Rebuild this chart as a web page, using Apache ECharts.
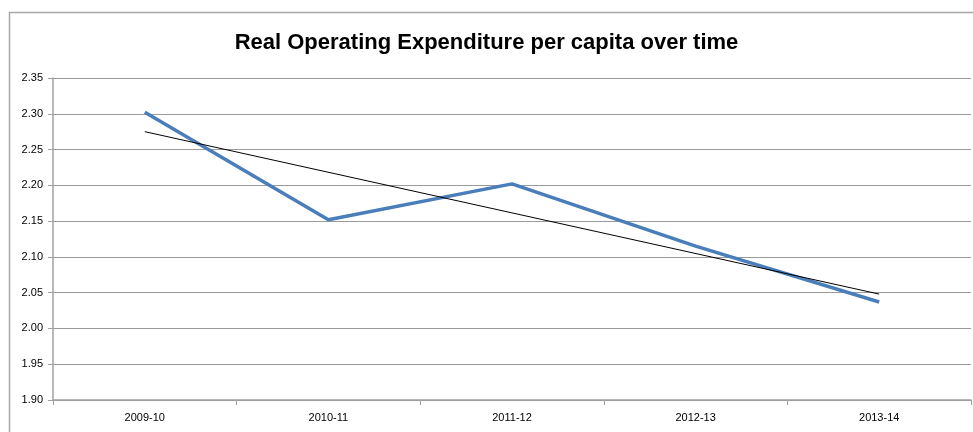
<!DOCTYPE html>
<html>
<head>
<meta charset="utf-8">
<script src="https://cdn.jsdelivr.net/npm/echarts@6/dist/echarts.min.js"></script>
<style>html,body{margin:0;padding:0;background:#fff}#c{width:973px;height:432px}</style>
</head>
<body>
<div id="c"></div>
<script>
const titleText = 'Real Operating Expenditure per capita over time';
const categories = ['2009-10', '2010-11', '2011-12', '2012-13', '2013-14'];
const expenditure = [2.302, 2.152, 2.202, 2.115, 2.037];
const trend = [2.275, null, null, null, 2.048];
const yMin = 1.90, yMax = 2.35, yStep = 0.05;

const chart = echarts.init(document.getElementById('c'), null, {renderer: 'canvas'});
const font = '"Liberation Sans Narrow", "Liberation Sans", Arial, sans-serif';
chart.setOption({
  animation: false,
  backgroundColor: '#fff',
  graphic: [{
    type: 'rect', left: 7, top: 10, shape: {width: 990, height: 440},
    style: {fill: 'none', stroke: '#a8a8a8', lineWidth: 1.5}, silent: true
  }],
  title: {
    text: titleText, left: 'center', top: 27,
    textStyle: {fontFamily: font, fontWeight: 'bold', fontSize: 22, color: '#000'}
  },
  grid: {left: 53, right: 2, top: 78, bottom: 32, containLabel: false},
  xAxis: {
    type: 'category', data: categories, boundaryGap: true,
    axisLine: {lineStyle: {color: '#a0a0a0', width: 1.5}},
    axisTick: {show: true, length: 5, lineStyle: {color: '#a0a0a0'}},
    axisLabel: {fontFamily: font, fontSize: 11, color: '#000', margin: 12}
  },
  yAxis: {
    type: 'value', min: yMin, max: yMax, interval: yStep,
    axisLine: {show: true, lineStyle: {color: '#a0a0a0', width: 1.5}},
    axisTick: {show: true, length: 5, lineStyle: {color: '#a0a0a0'}},
    splitLine: {lineStyle: {color: '#9a9a9a', width: 1.2}},
    axisLabel: {fontFamily: font, fontSize: 11, color: '#000', margin: 10,
      formatter: v => v.toFixed(2)}
  },
  series: [{
    type: 'line', data: expenditure, symbol: 'none',
    lineStyle: {color: '#4a7ebb', width: 3.5}, z: 3
  }, {
    type: 'line', data: trend, symbol: 'none', connectNulls: true,
    lineStyle: {color: '#000', width: 1}, z: 4
  }]
});
</script>
</body>
</html>
